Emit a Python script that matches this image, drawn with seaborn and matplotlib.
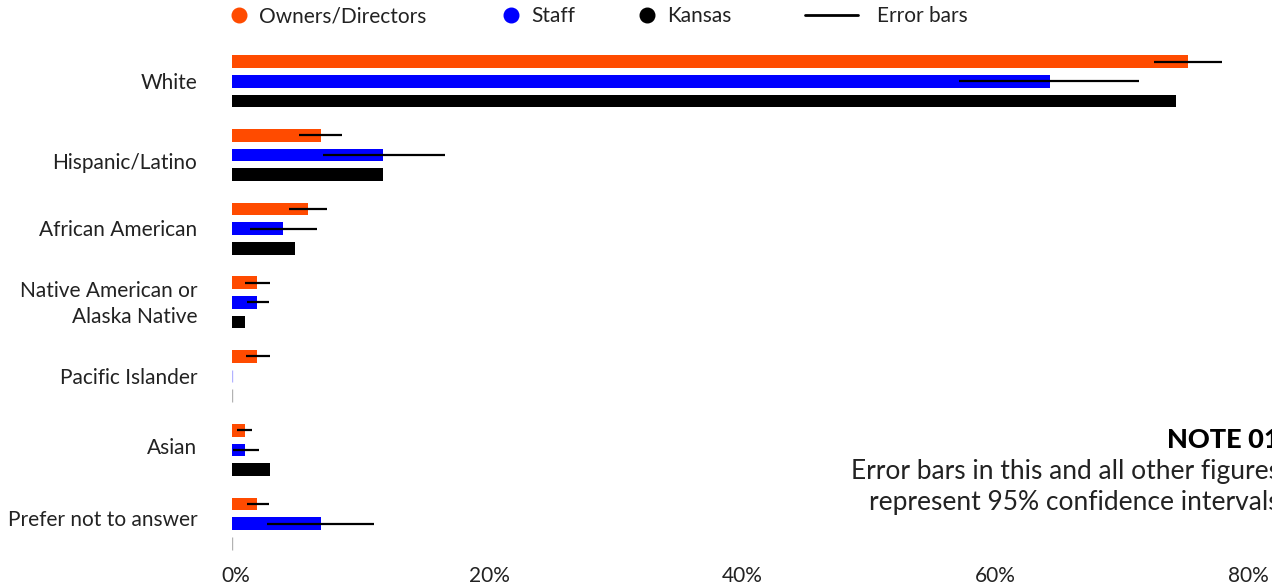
import numpy as np
import pandas as pd
import matplotlib
matplotlib.use("Agg")
import matplotlib.pyplot as plt
import matplotlib.transforms as mtransforms
from matplotlib.lines import Line2D
import seaborn as sns

# Race/ethnicity shares (%) for childcare owners/directors, staff and the state population
categories = [
    "White",
    "Hispanic/Latino",
    "African American",
    "Native American or\nAlaska Native",
    "Pacific Islander",
    "Asian",
    "Prefer not to answer",
]
series_names = ["Owners/Directors", "Staff", "Kansas"]
owners = [75.6, 7.0, 6.0, 2.0, 2.0, 1.0, 2.0]
staff = [64.7, 11.9, 4.0, 2.0, 0.0, 1.0, 7.0]
kansas = [74.6, 11.9, 5.0, 1.0, 0.0, 3.0, 0.0]

# 95% confidence intervals for the survey groups
owners_lo = [72.9, 5.3, 4.5, 1.0, 1.1, 0.4, 1.2]
owners_hi = [78.3, 8.7, 7.5, 3.0, 3.0, 1.6, 2.9]
staff_lo = [57.5, 7.2, 1.4, 1.2, None, 0.05, 2.8]
staff_hi = [71.7, 16.8, 6.7, 2.9, None, 2.1, 11.2]

xticks = [0, 20, 40, 60, 80]
xtick_labels = ["0%", "20%", "40%", "60%", "80%"]

colors = ["#FF4B00", "#0000FF", "#000000"]
text_color = "#222222"

df = pd.DataFrame({
    "group": categories * 3,
    "series": [s for s in series_names for _ in categories],
    "pct": owners + staff + kansas,
})

sns.set_theme(style="white")
plt.rcParams["font.family"] = ["Lato", "DejaVu Sans"]

fig = plt.figure(figsize=(12.72, 5.87), dpi=100)
ax = fig.add_axes([232 / 1272, 26.6 / 587, 1012 / 1272, 515.9 / 587])

sns.barplot(
    data=df, y="group", x="pct", hue="series", order=categories,
    hue_order=series_names, palette=colors, width=0.8, gap=0.355,
    orient="h", errorbar=None, saturation=1, legend=False, ax=ax,
)

# zero-valued bars show up as faint hairlines at the baseline
for cont, col in zip(ax.containers, colors):
    for p in cont.patches:
        if p.get_width() == 0:
            p.set_edgecolor(matplotlib.colors.to_rgba(col, 0.3))
            p.set_linewidth(1.0)
        else:
            p.set_linewidth(0)

# error bars for the two survey groups
for cont, lo, hi in zip(ax.containers[:2], [owners_lo, staff_lo], [owners_hi, staff_hi]):
    for p, l, h in zip(cont.patches, lo, hi):
        if l is None:
            continue
        yc = p.get_y() + p.get_height() / 2
        ax.hlines(yc, l, h, color="black", lw=1.6, zorder=5)

ax.set_xlim(0, 80)
ax.set_ylim(6.5, -0.5)
ax.set_xticks(xticks)
ax.set_xticklabels(xtick_labels)
ax.set_xlabel("")
ax.set_ylabel("")
for s in ax.spines.values():
    s.set_visible(False)
ax.tick_params(axis="y", length=0, pad=25, labelsize=15, colors=text_color)
ax.tick_params(axis="x", length=0, pad=4, labelsize=15, colors=text_color)
ax.set_yticks(range(len(categories)))
ax.set_yticklabels(categories, linespacing=1.4)
offset = mtransforms.ScaledTranslation(4 / 100, 0, fig.dpi_scale_trans)
for lab in ax.get_xticklabels():
    lab.set_transform(lab.get_transform() + offset)

# small vertical nudges of the category labels (pixels, positive = down)
label_shift = [0, 6, -1, -3.5, 0, -4, -5.5]
for lab, dy in zip(ax.get_yticklabels(), label_shift):
    lab.set_transform(lab.get_transform()
                      + mtransforms.ScaledTranslation(0, -dy / 100, fig.dpi_scale_trans))
ax.grid(False)

# legend: three colour dots plus the error-bar key, each placed on its own
legend_y = 1 - 16.5 / 587
for name, col, x0 in zip(series_names, colors, [231.7, 503.7, 639.7]):
    lg = fig.legend(
        [Line2D([], [], marker="o", ls="", color=col, markersize=10.5)], [name],
        loc="center left", bbox_to_anchor=(x0 / 1272, legend_y), frameon=False,
        fontsize=15, handlelength=0.7, handletextpad=0.6,
        borderaxespad=0, borderpad=0,
    )
    for t in lg.get_texts():
        t.set_color(text_color)
lg = fig.legend(
    [Line2D([], [], color="black", lw=2)], ["Error bars"], loc="center left",
    bbox_to_anchor=(805 / 1272, legend_y), frameon=False, fontsize=15,
    handlelength=2.54, handletextpad=0.91, borderaxespad=0, borderpad=0,
)
for t in lg.get_texts():
    t.set_color(text_color)

# note in the lower right
fig.text(1280 / 1272, 1 - 440 / 587, "NOTE 01", ha="right", va="center",
         fontsize=19.5, fontweight="black", color="black")
fig.text(1280 / 1272, 1 - 487 / 587,
         "Error bars in this and all other figures\nrepresent 95% confidence intervals",
         ha="right", va="center", fontsize=19, color=text_color, linespacing=1.32)

fig.savefig("out.png", dpi=100)
